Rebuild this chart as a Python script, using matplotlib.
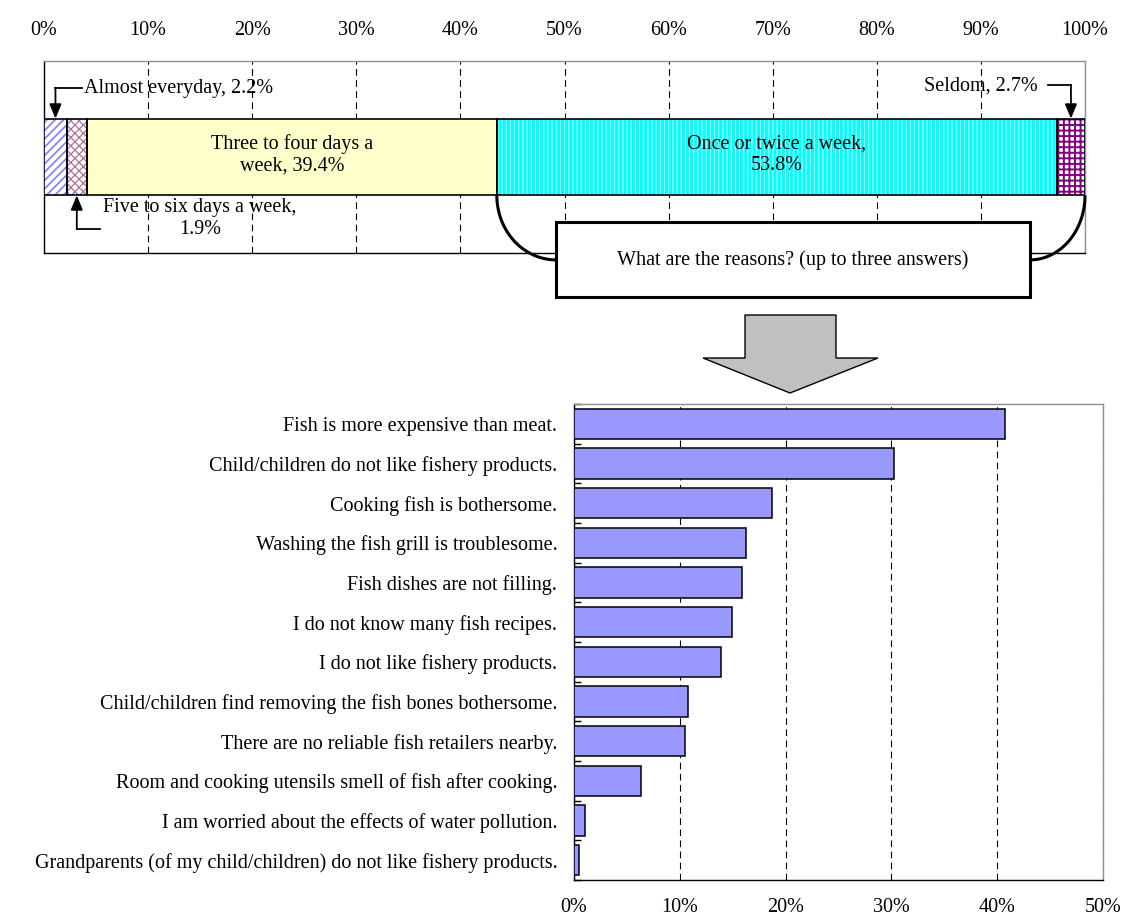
import matplotlib
matplotlib.use("Agg")
import matplotlib.pyplot as plt
import matplotlib.patches as mpatches
import numpy as np

plt.rcParams['font.family'] = ['Liberation Serif', 'DejaVu Serif']
plt.rcParams['font.size'] = 14.5
FS = 14.5

# ---------------- data ----------------
freq_labels = ["Almost everyday, 2.2%", "Five to six days a week,\n1.9%",
               "Three to four days a\nweek, 39.4%", "Once or twice a week,\n53.8%",
               "Seldom, 2.7%"]
freq_values = [2.2, 1.9, 39.4, 53.8, 2.7]
top_ticks = [0, 10, 20, 30, 40, 50, 60, 70, 80, 90, 100]

reasons = ["Fish is more expensive than meat.",
           "Child/children do not like fishery products.",
           "Cooking fish is bothersome.",
           "Washing the fish grill is troublesome.",
           "Fish dishes are not filling.",
           "I do not know many fish recipes.",
           "I do not like fishery products.",
           "Child/children find removing the fish bones bothersome.",
           "There are no reliable fish retailers nearby.",
           "Room and cooking utensils smell of fish after cooking.",
           "I am worried about the effects of water pollution.",
           "Grandparents (of my child/children) do not like fishery products."]
reason_values = [40.7, 30.2, 18.7, 16.3, 15.9, 14.9, 13.9, 10.8, 10.5, 6.3, 1.0, 0.5]
bottom_ticks = [0, 10, 20, 30, 40, 50]
box_text = "What are the reasons? (up to three answers)"

W, H = 1121, 921
fig = plt.figure(figsize=(W / 100, H / 100), dpi=100)

def fx(px):
    return px / W

def fy(py):
    return 1 - py / H

# ---------------- top stacked bar ----------------
ax1 = fig.add_axes([fx(44), fy(253), fx(1085) - fx(44), fy(61) - fy(253)])
ax1.set_xlim(0, 100)
ax1.set_ylim(0, 1)
bar_y, bar_h = 0.5, 0.4

styles = [
    dict(face='white', hcol='#7F7FFF', hatch='////', hlw=1.2),
    dict(face='white', hcol='#B0709A', hatch='xxxx', hlw=0.9),
    dict(face='#FFFFCC', hcol='#FFFFCC', hatch=None, hlw=1.0),
    dict(face='#00FFFF', hcol='white', hatch='||||', hlw=0.6),
    dict(face='white', hcol='#800080', hatch='+++', hlw=1.4),
]
lefts = np.concatenate([[0], np.cumsum(freq_values)[:-1]])
for val, left, st in zip(freq_values, lefts, styles):
    with plt.rc_context({'hatch.linewidth': st['hlw'], 'hatch.color': st['hcol']}):
        b = ax1.barh(bar_y, val, left=left, height=bar_h, color=st['face'],
                     edgecolor=st['hcol'], linewidth=0, hatch=st['hatch'], zorder=3)
        for p in b:
            if hasattr(p, 'set_hatch_linewidth'):
                p.set_hatch_linewidth(st['hlw'])
    ax1.barh(bar_y, val, left=left, height=bar_h, facecolor='none',
             edgecolor='black', linewidth=1.2, zorder=4)

ax1.set_xticks(top_ticks)
ax1.set_xticklabels([f"{t}%" for t in top_ticks])
ax1.xaxis.tick_top()
ax1.tick_params(axis='x', length=0, pad=15, labelsize=FS)
ax1.set_yticks([])
ax1.grid(axis='x', linestyle=(0, (6, 4)), color='black', linewidth=0.8, zorder=1)
ax1.set_axisbelow(True)
for s in ['top', 'right']:
    ax1.spines[s].set_color('#909090')
for s in ['left', 'bottom']:
    ax1.spines[s].set_color('black')
for s in ax1.spines.values():
    s.set_linewidth(1.0)

# texts inside bars
ax1.text(lefts[2] + freq_values[2] / 2, bar_y + 0.01, freq_labels[2], ha='center', va='center',
         fontsize=FS, zorder=6, linespacing=1.2)
ax1.text(lefts[3] + freq_values[3] / 2, bar_y + 0.01, freq_labels[3], ha='center', va='center',
         fontsize=FS, zorder=6, linespacing=1.2)

ytop = bar_y + bar_h / 2
ybot = bar_y - bar_h / 2
arrow_kw = dict(arrowstyle='-|>,head_length=0.6,head_width=0.25', color='black', lw=1.3,
                shrinkA=0, shrinkB=0)

# Almost every day
c0 = lefts[0] + freq_values[0] / 2
ax1.plot([3.65, c0], [0.859, 0.859], color='black', lw=1.3, clip_on=False, zorder=6)
ax1.annotate('', xy=(c0, ytop), xytext=(c0, 0.859), arrowprops=arrow_kw, zorder=6)
ax1.text(3.84, 0.855, freq_labels[0], ha='left', va='center', fontsize=FS, zorder=6)

# Five to six
c1 = lefts[1] + freq_values[1] / 2
ax1.plot([5.4, c1], [0.125, 0.125], color='black', lw=1.3, clip_on=False, zorder=6)
ax1.annotate('', xy=(c1, ybot), xytext=(c1, 0.125), arrowprops=arrow_kw, zorder=6)
ax1.text(15.0, 0.18, freq_labels[1], ha='center', va='center', fontsize=FS,
         multialignment='center', zorder=6, linespacing=1.2)

# Seldom
c4 = lefts[4] + freq_values[4] / 2
ax1.plot([96.4, c4], [0.875, 0.875], color='black', lw=1.3, clip_on=False, zorder=6)
ax1.annotate('', xy=(c4, ytop), xytext=(c4, 0.875), arrowprops=arrow_kw, zorder=6)
ax1.text(95.5, 0.872, freq_labels[4], ha='right', va='center', fontsize=FS, zorder=6)

# bracket and box
bx0, bx1 = 49.2, 94.7
by0, by1 = -0.229, 0.161
ybr = -0.036
t = np.linspace(0, np.pi / 2, 60)
lx0 = lefts[3]
ax1.plot(bx0 - (bx0 - lx0) * np.cos(t), ybot - (ybot - ybr) * np.sin(t),
         color='black', lw=2.2, clip_on=False, zorder=7, solid_capstyle='butt')
ax1.plot(bx1 + (100 - bx1) * np.cos(t), ybot - (ybot - ybr) * np.sin(t),
         color='black', lw=2.2, clip_on=False, zorder=7, solid_capstyle='butt')
box = mpatches.Rectangle((bx0, by0), bx1 - bx0, by1 - by0, facecolor='white',
                         edgecolor='black', linewidth=2.2, clip_on=False, zorder=8)
ax1.add_patch(box)
ax1.text((bx0 + bx1) / 2, (by0 + by1) / 2 - 0.005, box_text, ha='center', va='center',
         fontsize=FS, zorder=9)

# gray down arrow
arrow_pts = [(745, 315), (836, 315), (836, 358), (878, 358), (790, 393),
             (703, 358), (745, 358)]
poly = mpatches.Polygon([(fx(x), fy(y)) for x, y in arrow_pts], closed=True,
                        transform=fig.transFigure, facecolor='#C0C0C0',
                        edgecolor='black', linewidth=1.0, zorder=10)
fig.patches.append(poly)

# ---------------- bottom horizontal bar chart ----------------
ax2 = fig.add_axes([fx(574), fy(880), fx(1103) - fx(574), fy(404) - fy(880)])
ypos = np.arange(len(reasons))
ax2.barh(ypos, reason_values, height=0.76, color='#9999FF', edgecolor='black',
         linewidth=1.1, zorder=3)
ax2.set_ylim(len(reasons) - 0.5, -0.5)
ax2.set_xlim(0, 50)
ax2.set_yticks(ypos)
ax2.set_yticklabels(reasons)
ax2.set_yticks(np.arange(len(reasons) + 1) - 0.5, minor=True)
ax2.tick_params(axis='y', which='major', length=0, pad=12, labelsize=FS)
ax2.tick_params(axis='y', which='minor', length=5, direction='in', width=1.0)
ax2.set_xticks(bottom_ticks)
ax2.set_xticklabels([f"{t}%" for t in bottom_ticks])
ax2.tick_params(axis='x', length=0, pad=13, labelsize=FS)
ax2.grid(axis='x', linestyle=(0, (6, 4)), color='black', linewidth=0.8, zorder=1)
ax2.set_axisbelow(True)
for s in ['top', 'right']:
    ax2.spines[s].set_color('#909090')
for s in ['left', 'bottom']:
    ax2.spines[s].set_color('black')
for s in ax2.spines.values():
    s.set_linewidth(1.0)

fig.savefig("out.png", dpi=100)
